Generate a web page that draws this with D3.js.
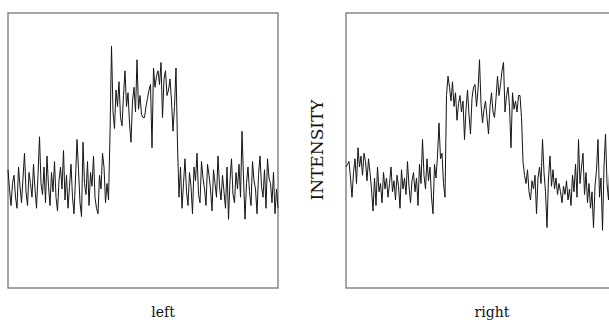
<!DOCTYPE html>
<html>
<head>
<meta charset="utf-8">
<script src="https://cdn.jsdelivr.net/npm/d3@7"></script>
<style>
  body { margin: 0; background: #fff; }
  svg { display: block; }
  text { font-family: "DejaVu Serif", "Liberation Serif", serif; fill: #111; }
</style>
</head>
<body>
<svg id="chart" width="609" height="320"></svg>
<script>
const svg = d3.select("#chart");

const panelNames = ["left", "right"];
const axisLabel = "INTENSITY";

// intensity readings, one every channel, scale 0..100 of the frame height
const leftValues = [
  43, 36, 30, 38, 41, 33, 29, 44, 37, 31, 40, 49, 35, 30, 42, 38, 33, 45, 36, 29,
  41, 55, 38, 34, 44, 31, 48, 37, 30, 42, 35, 46, 33, 28, 39, 44, 36, 50, 32, 41,
  29, 37, 45, 33, 27, 40, 54, 43, 31, 26, 53, 38, 34, 46, 30, 42, 37, 48, 33, 29,
  27, 41, 36, 49, 44, 31, 38, 32,
  56, 88, 64, 58, 72, 66, 75, 62, 59, 70, 79, 66, 71, 60, 53, 68, 73, 64, 83, 65,
  70, 63, 62, 62, 66, 69, 72, 74, 51, 80, 73, 77, 79, 74, 82, 62, 76, 79, 70, 72,
  76, 68, 57, 66, 80,
  52, 33, 44, 29, 38, 47, 35, 30, 42, 37, 27, 44, 39, 49, 34, 31, 46, 40, 36, 30,
  45, 41, 36, 28, 43, 38, 33, 48, 37, 32, 41, 35, 29, 44, 25, 39, 47, 34, 31, 42,
  36, 45, 33, 57, 40, 25, 38, 44, 35, 30, 46, 39, 36, 27, 41, 48, 37, 33, 43, 29,
  47, 40, 38, 31, 42, 27, 36, 29
];

const rightValues = [
  44, 45, 46, 40, 33, 42, 47, 38, 51, 44, 48, 41, 49, 46, 39, 47, 42, 36, 28, 40,
  30, 44, 35, 38, 31, 42, 36, 40, 33, 38, 44, 35, 39, 32, 41, 37, 29, 43, 36, 40,
  34, 46, 37, 31, 39, 42, 35, 40, 30, 45, 38, 54, 41, 36, 47, 39, 44, 33, 27, 45,
  40, 48, 60, 47, 49, 38, 33,
  70, 77, 73, 68, 75, 66, 71, 61, 67, 70, 64, 68, 54, 65, 72, 63, 56, 69, 73, 74,
  66, 72, 83, 67, 60, 65, 68, 62, 56, 66, 71, 64, 62, 69, 77, 70, 74, 79, 82, 64,
  70, 73, 66, 51, 71, 65, 68, 64, 70, 70, 62,
  46, 41, 38, 43, 35, 32, 39, 36, 41, 27, 40, 44, 38, 54, 42, 35, 22, 40, 48, 37,
  43, 36, 40, 34, 38, 35, 31, 37, 34, 39, 32, 36, 30, 41, 35, 45, 33, 54, 38, 44,
  49, 34, 42, 31, 38, 29, 35, 22, 37, 43, 54, 33, 40, 21, 44, 56, 38, 32, 47, 35,
  42, 30, 37
];

const panels = [
  { name: panelNames[0], values: leftValues, x0: 8, x1: 278, labelX: 163 },
  { name: panelNames[1], values: rightValues, x0: 346, x1: 616, labelX: 492 }
];

const plotTop = 13;
const plotBottom = 288;

const y = d3.scaleLinear().domain([0, 100]).range([plotBottom, plotTop]);

const drawPanel = (panel) => {
  const x = d3
    .scaleLinear()
    .domain([0, panel.values.length - 1])
    .range([panel.x0, panel.x1]);

  const g = svg.append("g");

  g.append("rect")
    .attr("x", panel.x0)
    .attr("y", plotTop)
    .attr("width", panel.x1 - panel.x0)
    .attr("height", plotBottom - plotTop)
    .style("fill", "none")
    .style("stroke", "#6a6a6a")
    .style("stroke-width", 1.2);

  const line = d3
    .line()
    .x((d, i) => x(i))
    .y((d) => y(d));

  g.append("path")
    .datum(panel.values)
    .attr("d", line)
    .style("fill", "none")
    .style("stroke", "#151515")
    .style("stroke-width", 1);

  g.append("text")
    .attr("x", panel.labelX)
    .attr("y", 317)
    .attr("text-anchor", "middle")
    .style("font-size", "14px")
    .text(panel.name);
};

panels.forEach(drawPanel);

svg
  .append("text")
  .attr("transform", "translate(323,150) rotate(-90)")
  .attr("text-anchor", "middle")
  .style("font-size", "17px")
  .text(axisLabel);
</script>
</body>
</html>
